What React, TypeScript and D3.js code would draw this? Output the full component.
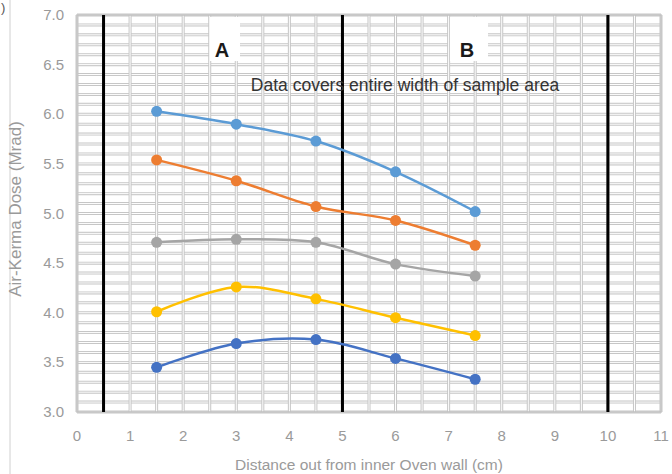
import React from "react";
import * as d3 from "d3";

const xValues = [1.5, 3, 4.5, 6, 7.5];
const seriesLightBlue = [6.03, 5.9, 5.73, 5.42, 5.02];
const seriesOrange = [5.54, 5.33, 5.07, 4.93, 4.68];
const seriesGray = [4.71, 4.74, 4.71, 4.49, 4.37];
const seriesYellow = [4.01, 4.26, 4.14, 3.95, 3.77];
const seriesDarkBlue = [3.45, 3.69, 3.73, 3.54, 3.33];
const xTicks = [0, 1, 2, 3, 4, 5, 6, 7, 8, 9, 10, 11];
const yTicks = [3.0, 3.5, 4.0, 4.5, 5.0, 5.5, 6.0, 6.5, 7.0];
const boundaryLines = [0.5, 5, 10];

const series = [
  { name: "s1", color: "#5B9BD5", values: seriesLightBlue },
  { name: "s2", color: "#ED7D31", values: seriesOrange },
  { name: "s3", color: "#A5A5A5", values: seriesGray },
  { name: "s4", color: "#FFC000", values: seriesYellow },
  { name: "s5", color: "#4472C4", values: seriesDarkBlue },
];

export default function App() {
  const W = 672, H = 474;
  const x = d3.scaleLinear().domain([0, 11]).range([77, 661]);
  const y = d3.scaleLinear().domain([3, 7]).range([412, 15]);
  const hGrid = d3.range(30, 71).map((v) => v / 10);
  const vGrid = d3.range(0, 23).map((v) => v / 2);
  const line = d3
    .line<[number, number]>()
    .x((d) => x(d[0]))
    .y((d) => y(d[1]))
    .curve(d3.curveCatmullRom.alpha(0.5));
  const font = "'Liberation Sans', Arial, sans-serif";
  const tickFill = "#9a9a9a";
  return (
    <svg width={W} height={H} style={{ position: "absolute", left: 0, top: 0 }} fontFamily={font}>
      <rect x={0} y={0} width={W} height={H} fill="#fff" />
      <line x1={10} y1={0} x2={10} y2={H} stroke="#d0d0d0" strokeWidth={1} />
      <text x={1} y={12} fontSize={13} fill="#555">)</text>
      {/* grid */}
      <g>
        {hGrid.map((v, i) => (
          <g key={"h" + i}>
            <line x1={x(0)} x2={x(11)} y1={y(v)} y2={y(v)} stroke="#c6c6c6" strokeWidth={3} />
            <line x1={x(0)} x2={x(11)} y1={y(v)} y2={y(v)} stroke="#fff" strokeWidth={1} />
          </g>
        ))}
        {vGrid.map((v, i) => (
          <g key={"v" + i}>
            <line x1={x(v)} x2={x(v)} y1={y(3)} y2={y(7)} stroke="#c6c6c6" strokeWidth={3} />
            <line x1={x(v)} x2={x(v)} y1={y(3)} y2={y(7)} stroke="#fff" strokeWidth={1} />
          </g>
        ))}
        <rect x={x(0)} y={y(7)} width={x(11) - x(0)} height={y(3) - y(7)} fill="none" stroke="#c0c0c0" strokeWidth={1.5} />
      </g>
      {/* A / B labels with white background */}
      <rect x={210} y={y(7) + 2} width={30} height={44} fill="#fff" />
      <rect x={450} y={y(7) + 2} width={38} height={44} fill="#fff" />
      {boundaryLines.map((v) => (
        <line key={v} x1={x(v)} x2={x(v)} y1={y(7)} y2={y(3)} stroke="#000" strokeWidth={3} />
      ))}
      <text x={222} y={57} fontSize={20} fontWeight="bold" fill="#1a1a1a" textAnchor="middle">A</text>
      <text x={467} y={57} fontSize={20} fontWeight="bold" fill="#1a1a1a" textAnchor="middle">B</text>
      <text x={405} y={91} fontSize={17.5} fill="#333" textAnchor="middle">Data covers entire width of sample area</text>
      {/* series */}
      {series.map((s) => {
        const pts = xValues.map((xv, i) => [xv, s.values[i]] as [number, number]);
        return (
          <g key={s.name}>
            <path d={line(pts) || ""} fill="none" stroke={s.color} strokeWidth={2.5} />
            {pts.map((p, i) => (
              <circle key={i} cx={x(p[0])} cy={y(p[1])} r={5.5} fill={s.color} />
            ))}
          </g>
        );
      })}
      {/* axes labels */}
      {yTicks.map((t) => (
        <text key={t} x={64} y={y(t) + 5} fontSize={15} fill={tickFill} textAnchor="end">
          {t.toFixed(1)}
        </text>
      ))}
      {xTicks.map((t) => (
        <text key={t} x={x(t)} y={441} fontSize={15} fill={tickFill} textAnchor="middle">
          {t}
        </text>
      ))}
      <text x={369} y={470} fontSize={15.5} fill={tickFill} textAnchor="middle">
        Distance out from inner Oven wall (cm)
      </text>
      <text transform={`translate(21,209) rotate(-90)`} fontSize={17} fill={tickFill} textAnchor="middle">
        Air-Kerma Dose (Mrad)
      </text>
    </svg>
  );
}
